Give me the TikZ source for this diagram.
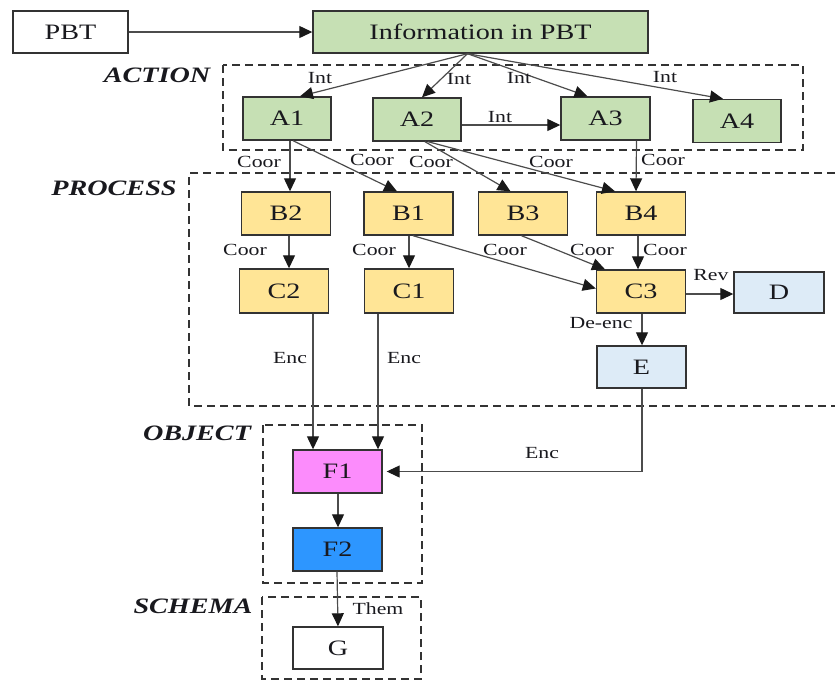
\documentclass[tikz,border=0pt]{standalone}
\usepackage{fontspec}
\setmainfont{Liberation Serif}[FakeStretch=1.28]
\usetikzlibrary{arrows.meta,calc}
\definecolor{gfill}{RGB}{198,224,180}
\definecolor{yfill}{RGB}{255,229,150}
\definecolor{bfill}{RGB}{221,235,247}
\definecolor{pfill}{RGB}{252,140,252}
\definecolor{dfill}{RGB}{45,150,255}
\definecolor{ink}{RGB}{25,25,30}
\begin{document}
\begin{tikzpicture}[x=1pt,y=-1pt,
  box/.style={draw=black!80, line width=1.4pt, minimum width=89pt, minimum height=43pt, inner sep=0pt, text=ink, font=\fontsize{22}{26}\selectfont},
  lab/.style={font=\fontsize{17}{20}\selectfont, inner sep=0pt, text=ink},
  sec/.style={font=\fontsize{22}{26}\selectfont\bfseries\itshape, inner sep=0pt, text=ink},
  conn/.style={draw=black!70, line width=1.2pt, -{Triangle[length=13pt,width=12pt,color=black!90]}},
  grp/.style={draw=black!80, line width=1.7pt, dash pattern=on 8pt off 5pt}]
\useasboundingbox (0,0) rectangle (835,681);

% group frames
\draw[grp] (223,65) rectangle (803,150);
\draw[grp] (835,173) -- (189,173) -- (189,406) -- (835,406);
\draw[grp] (263,425) rectangle (422,583);
\draw[grp] (262,597) rectangle (421,679);

% section labels
\node[sec] (sact) at (157,75) {ACTION};
\node[sec] (sproc) at (114,188) {PROCESS};
\node[sec] (sobj) at (197,433) {OBJECT};
\node[sec] (ssch) at (193,606) {SCHEMA};

% nodes
\node[box, fill=white, minimum width=115pt, minimum height=42pt] (pbt) at (70.5,32) {PBT};
\node[box, fill=gfill, minimum width=335pt, minimum height=42pt] (info) at (480.5,32) {Information in PBT};
\node[box, fill=gfill, minimum width=88pt] (a1) at (287,118.5) {A1};
\node[box, fill=gfill, minimum width=88pt] (a2) at (417,119.5) {A2};
\node[box, fill=gfill] (a3) at (605.5,118.5) {A3};
\node[box, fill=gfill, minimum width=88pt] (a4) at (737,121) {A4};
\node[box, fill=yfill] (b2) at (286,213.5) {B2};
\node[box, fill=yfill] (b1) at (408.5,213.5) {B1};
\node[box, fill=yfill] (b3) at (523,213.5) {B3};
\node[box, fill=yfill] (b4) at (641,213.5) {B4};
\node[box, fill=yfill, minimum height=44pt] (c2) at (284,291) {C2};
\node[box, fill=yfill, minimum height=44pt] (c1) at (409,291) {C1};
\node[box, fill=yfill] (c3) at (641,291.5) {C3};
\node[box, fill=bfill, minimum width=90pt, minimum height=41pt] (d) at (779,292.5) {D};
\node[box, fill=bfill, minimum height=42pt] (e) at (641.5,367) {E};
\node[box, fill=pfill] (f1) at (337.5,471.5) {F1};
\node[box, fill=dfill] (f2) at (337.5,549.5) {F2};
\node[box, fill=white, minimum width=90pt, minimum height=42pt] (g) at (338,648) {G};

% connectors
\coordinate (src) at ($(info.south)+(-13,0)$);
\draw[conn] (pbt) -- (info);
\draw[conn] (src) -- ($(a1.north)+(13,0)$);
\draw[conn] (src) -- ($(a2.north)+(5,0)$);
\draw[conn] (src) -- ($(a3.north)+(-18,0)$);
\draw[conn] (src) -- ($(a4.north)+(-14,0)$);
\draw[conn] ($(a2.east)+(0,5.5)$) -- ($(a3.west)+(0,6.5)$);

\draw[conn] ($(a1.south)+(3,0)$) -- ($(b2.north)+(4,0)$);
\draw[conn] ($(a1.south)+(6,0)$) -- ($(b1.north)+(-11.5,0)$);
\draw[conn] ($(a2.south)+(8,0)$) -- ($(b3.north)+(-12.5,0)$);
\draw[conn] ($(a2.south)+(11,0)$) -- ($(b4.north)+(-26,0)$);
\draw[conn] ($(a3.south)+(31,0)$) -- ($(b4.north)+(-5,0)$);

\draw[conn] ($(b2.south)+(3,0)$) -- ($(c2.north)+(5,0)$);
\draw[conn] ($(b1.south)+(0.5,0)$) -- (c1.north);
\draw[conn] ($(b1.south)+(4.5,0)$) -- ($(c3.west)+(0,-3)$);
\draw[conn] ($(b3.south)+(-1.5,0)$) -- ($(c3.north)+(-36,0)$);
\draw[conn] ($(b4.south)+(-3,0)$) -- ($(c3.north)+(-3,0)$);
\draw[conn] ($(c3.east)+(0,2.5)$) -- ($(d.west)+(0,1.5)$);
\draw[conn] ($(c3.south)+(1,0)$) -- ($(e.north)+(0.5,0)$);

\draw[conn] ($(c2.south)+(29,0)$) -- ($(f1.north)+(-24.5,0)$);
\draw[conn] ($(c1.south)+(-31,0)$) -- ($(f1.north)+(40.5,0)$);
\draw[conn] ($(e.south)+(0.5,0)$) |- ($(f1.east)+(4,0)$);
\draw[conn] ($(f1.south)+(0.5,0)$) -- ($(f2.north)+(0.5,0)$);
\draw[conn] ($(f2.south)+(-0.5,0)$) -- (g.north);

% edge labels
\node[lab] (i1) at (320,78) {Int};
\node[lab] (i2) at (459,79) {Int};
\node[lab] (i3) at (519,78) {Int};
\node[lab] (i4) at (665,77) {Int};
\node[lab] (i5) at (500,117) {Int};
\node[lab] (k1) at (259,162) {Coor};
\node[lab] (k2) at (372,160) {Coor};
\node[lab] (k3) at (431,162) {Coor};
\node[lab] (k4) at (551,162) {Coor};
\node[lab] (k5) at (663,160) {Coor};
\node[lab] (k6) at (245,250) {Coor};
\node[lab] (k7) at (374,250) {Coor};
\node[lab] (k8) at (505,250) {Coor};
\node[lab] (k9) at (592,250) {Coor};
\node[lab] (k10) at (665,250) {Coor};
\node[lab] (rv) at (711,275) {Rev};
\node[lab] (de) at (601,323) {De-enc};
\node[lab] (n1) at (290,358) {Enc};
\node[lab] (n2) at (404,358) {Enc};
\node[lab] (n3) at (542,453) {Enc};
\node[lab] (th) at (378,609) {Them};
\end{tikzpicture}
\end{document}
